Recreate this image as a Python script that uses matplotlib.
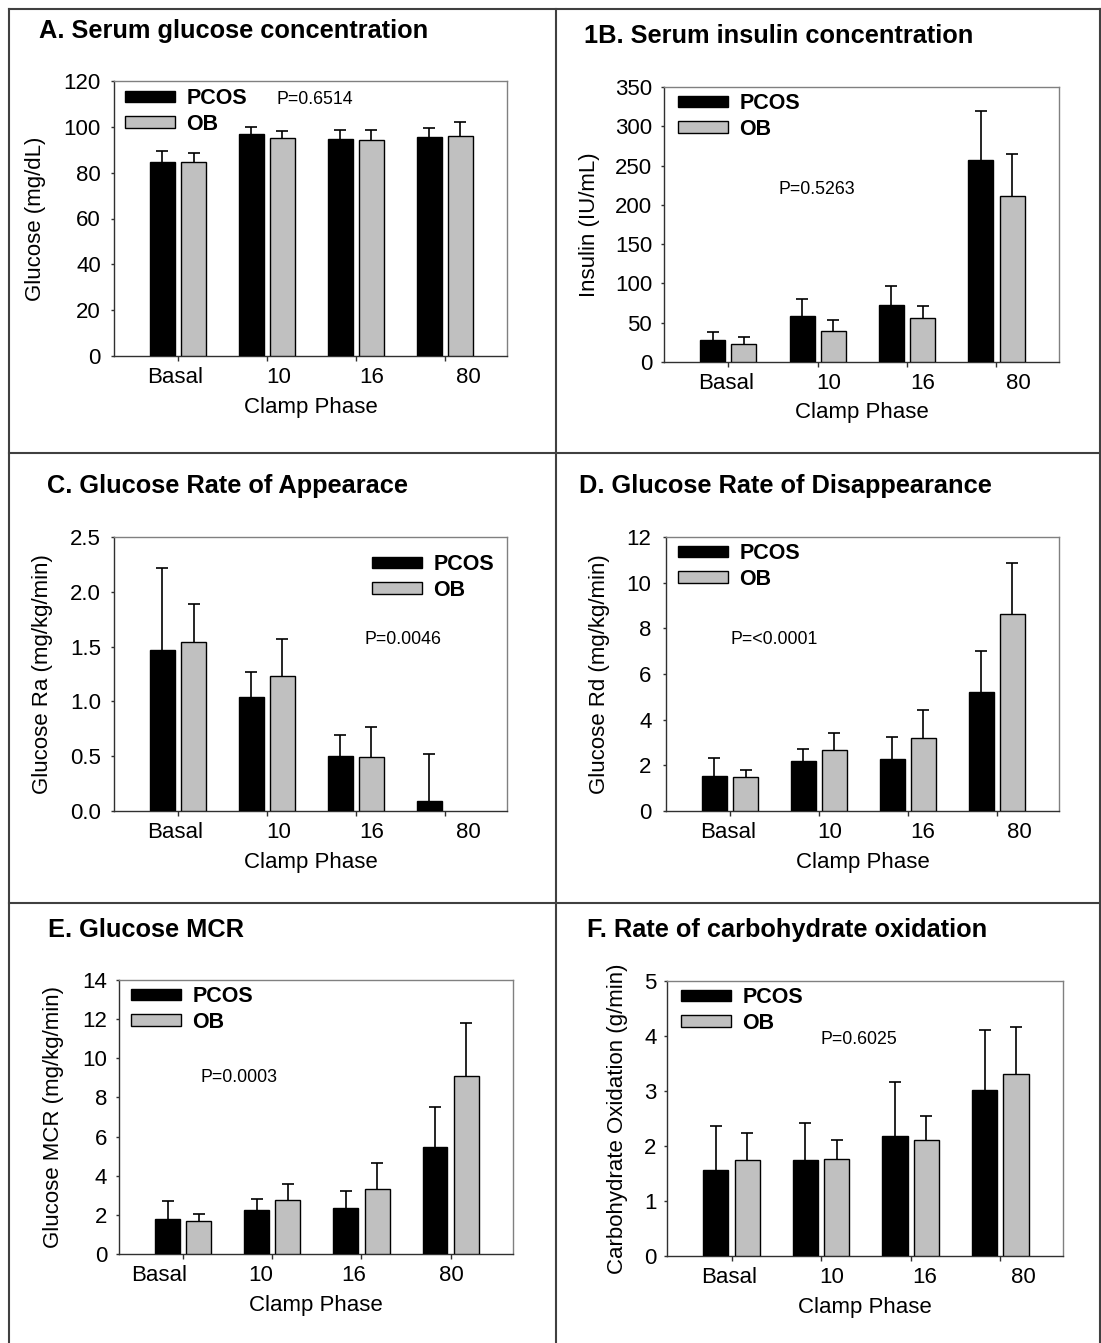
import numpy as np
import matplotlib
matplotlib.use("Agg")
import matplotlib.pyplot as plt
from matplotlib.patches import Patch
from matplotlib.lines import Line2D

plt.rcParams['font.family'] = ['Liberation Sans', 'DejaVu Sans']

# ---------------- data ----------------
phases = ["Basal", "10", "16", "80"]

glucose_pcos = [84.7, 96.7, 94.8, 95.7]
glucose_pcos_err = [4.8, 3.2, 4.0, 3.9]
glucose_ob = [84.5, 95.3, 94.4, 96.0]
glucose_ob_err = [4.2, 2.7, 4.4, 6.0]

insulin_pcos = [27.6, 58.3, 72.7, 256.9]
insulin_pcos_err = [11.1, 22.5, 23.4, 62.1]
insulin_ob = [22.5, 39.1, 56.6, 211.8]
insulin_ob_err = [9.4, 14.9, 14.9, 53.2]

ra_pcos = [1.47, 1.04, 0.50, 0.09]
ra_pcos_err = [0.75, 0.23, 0.19, 0.43]
ra_ob = [1.54, 1.23, 0.49, np.nan]
ra_ob_err = [0.35, 0.34, 0.28, np.nan]

rd_pcos = [1.55, 2.19, 2.27, 5.19]
rd_pcos_err = [0.76, 0.53, 0.97, 1.81]
rd_ob = [1.49, 2.65, 3.20, 8.61]
rd_ob_err = [0.29, 0.77, 1.23, 2.25]

mcr_pcos = [1.81, 2.25, 2.37, 5.49]
mcr_pcos_err = [0.92, 0.56, 0.85, 2.00]
mcr_ob = [1.69, 2.76, 3.34, 9.07]
mcr_ob_err = [0.37, 0.84, 1.30, 2.73]

cho_pcos = [1.57, 1.74, 2.18, 3.02]
cho_pcos_err = [0.80, 0.68, 0.98, 1.09]
cho_ob = [1.75, 1.76, 2.11, 3.31]
cho_ob_err = [0.49, 0.35, 0.43, 0.85]

# ---------------- layout (pixels) ----------------
W, H = 1101, 1343
fig = plt.figure(figsize=(W / 100, H / 100), dpi=100)


def fx(px):
    return px / W


def fy(py):
    return 1 - py / H


panels = [
    dict(title="A. Serum glucose concentration", title_xy=(39, 31),
         box=(114, 507, 81, 356), ylabel="Glucose (mg/dL)", ylab_x=36,
         pcos=(glucose_pcos, glucose_pcos_err), ob=(glucose_ob, glucose_ob_err),
         yticks=np.arange(0, 121, 20), fmt="{:.0f}", ypad=7,
         leg=(125, 97), ptext="P=0.6514", pxy=(277, 100),
         lab_shift=[-0.03, 0.13, 0.18, 0.26]),
    dict(title="1B. Serum insulin concentration", title_xy=(584, 36),
         box=(664, 1059, 87, 362), ylabel="Insulin (IU/mL)", ylab_x=589,
         pcos=(insulin_pcos, insulin_pcos_err), ob=(insulin_ob, insulin_ob_err),
         yticks=np.arange(0, 351, 50), fmt="{:.0f}", ypad=6,
         leg=(678, 102), ptext="P=0.5263", pxy=(778, 190),
         lab_shift=[-0.02, 0.12, 0.17, 0.25]),
    dict(title="C. Glucose Rate of Appearace", title_xy=(47, 486),
         box=(114, 507, 537, 811), ylabel="Glucose Ra (mg/kg/min)", ylab_x=43,
         pcos=(ra_pcos, ra_pcos_err), ob=(ra_ob, ra_ob_err),
         yticks=np.arange(0, 2.51, 0.5), fmt="{:.1f}", ypad=7,
         leg=(372, 563), ptext="P=0.0046", pxy=(364, 639),
         lab_shift=[-0.03, 0.13, 0.18, 0.26]),
    dict(title="D. Glucose Rate of Disappearance", title_xy=(579, 486),
         box=(666, 1059, 537, 811), ylabel="Glucose Rd (mg/kg/min)", ylab_x=599,
         pcos=(rd_pcos, rd_pcos_err), ob=(rd_ob, rd_ob_err),
         yticks=np.arange(0, 13, 2), fmt="{:.0f}", ypad=8,
         leg=(678, 552), ptext="P=<0.0001", pxy=(730, 639),
         lab_shift=[-0.02, 0.12, 0.17, 0.25]),
    dict(title="E. Glucose MCR", title_xy=(48, 930),
         box=(119, 513, 980, 1254), ylabel="Glucose MCR (mg/kg/min)", ylab_x=54,
         pcos=(mcr_pcos, mcr_pcos_err), ob=(mcr_ob, mcr_ob_err),
         yticks=np.arange(0, 15, 2), fmt="{:.0f}", ypad=6,
         leg=(131, 995), ptext="P=0.0003", pxy=(201, 1077),
         lab_shift=[-0.27, -0.13, -0.09, 0.01]),
    dict(title="F. Rate of carbohydrate oxidation", title_xy=(587, 930),
         box=(667, 1063, 981, 1256), ylabel="Carbohydrate Oxidation (g/min)", ylab_x=617,
         pcos=(cho_pcos, cho_pcos_err), ob=(cho_ob, cho_ob_err),
         yticks=np.arange(0, 6, 1), fmt="{:.0f}", ypad=5,
         leg=(681, 996), ptext="P=0.6025", pxy=(820, 1040),
         lab_shift=[-0.03, 0.12, 0.16, 0.26]),
]

gray = "#c0c0c0"
bw = 0.28
off = 0.175
x = np.arange(len(phases))

for p in panels:
    l, r, t, b = p["box"]
    ax = fig.add_axes([fx(l), fy(b), (r - l) / W, (b - t) / H])

    for vals, errs, col, dx in [(p["pcos"][0], p["pcos"][1], "black", -off),
                                (p["ob"][0], p["ob"][1], gray, off)]:
        vals = np.array(vals, dtype=float)
        errs = np.array(errs, dtype=float)
        eb = ax.errorbar(x + dx, vals, yerr=[np.zeros_like(errs), errs], fmt="none",
                         ecolor="black", elinewidth=1.2, capsize=4, capthick=1.2, zorder=2)
        eb[1][0].set_visible(False)  # no cap on the lower (zero) side
        ax.bar(x + dx, vals, width=bw, color=col, edgecolor="black", linewidth=1.0, zorder=3)

    ax.set_xlim(-0.72, 3.70)
    ax.set_ylim(p["yticks"][0], p["yticks"][-1])
    ax.set_yticks(p["yticks"])
    ax.set_yticklabels([p["fmt"].format(v) for v in p["yticks"]])
    ax.set_xticks(x + np.array(p["lab_shift"]))
    ax.set_xticklabels(phases)
    ax.set_xticks(x, minor=True)
    ax.tick_params(axis="x", which="major", length=0, pad=8, labelsize=16)
    ax.tick_params(axis="x", which="minor", length=3.5, width=1, color="#303030", direction="out")
    ax.tick_params(axis="y", length=2.5, width=1, color="#303030", direction="out",
                   pad=p["ypad"], labelsize=16)

    for s in ["left", "bottom"]:
        ax.spines[s].set_color("#303030")
        ax.spines[s].set_linewidth(1.0)
    for s in ["top", "right"]:
        ax.spines[s].set_color("#808080")
        ax.spines[s].set_linewidth(1.0)

    ax.set_xlabel("Clamp Phase", fontsize=16, va="center")
    ax.xaxis.set_label_coords(0.5, -51 / (b - t))
    ax.set_ylabel(p["ylabel"], fontsize=16, va="center")
    ax.yaxis.set_label_coords((p["ylab_x"] - l) / (r - l), 0.5)

    lx, ly = p["leg"]
    ax.legend(handles=[Patch(facecolor="black", edgecolor="black", linewidth=1.0),
                       Patch(facecolor=gray, edgecolor="black", linewidth=1.0)],
              labels=["PCOS", "OB"], loc="upper left",
              bbox_to_anchor=(fx(lx), fy(ly - 9)), bbox_transform=fig.transFigure,
              frameon=False, borderpad=0, borderaxespad=0, handlelength=2.3,
              handleheight=0.45, handletextpad=0.55, labelspacing=0.22,
              prop=dict(weight="bold", size=15.5))

    px_, py_ = p["pxy"]
    fig.text(fx(px_), fy(py_), p["ptext"], fontsize=12.8, ha="left", va="center")

    tx, ty = p["title_xy"]
    fig.text(fx(tx), fy(ty), p["title"], fontsize=18.3, fontweight="bold", ha="left", va="center")

# table-like panel borders
lc = "#404040"
for xv in [9, 556, 1100]:
    fig.add_artist(Line2D([fx(xv), fx(xv)], [fy(9), 0], color=lc, lw=1.5))
for yv in [9, 453, 903]:
    fig.add_artist(Line2D([fx(9), fx(1100)], [fy(yv), fy(yv)], color=lc, lw=1.5))

fig.savefig("out.png", dpi=100)
